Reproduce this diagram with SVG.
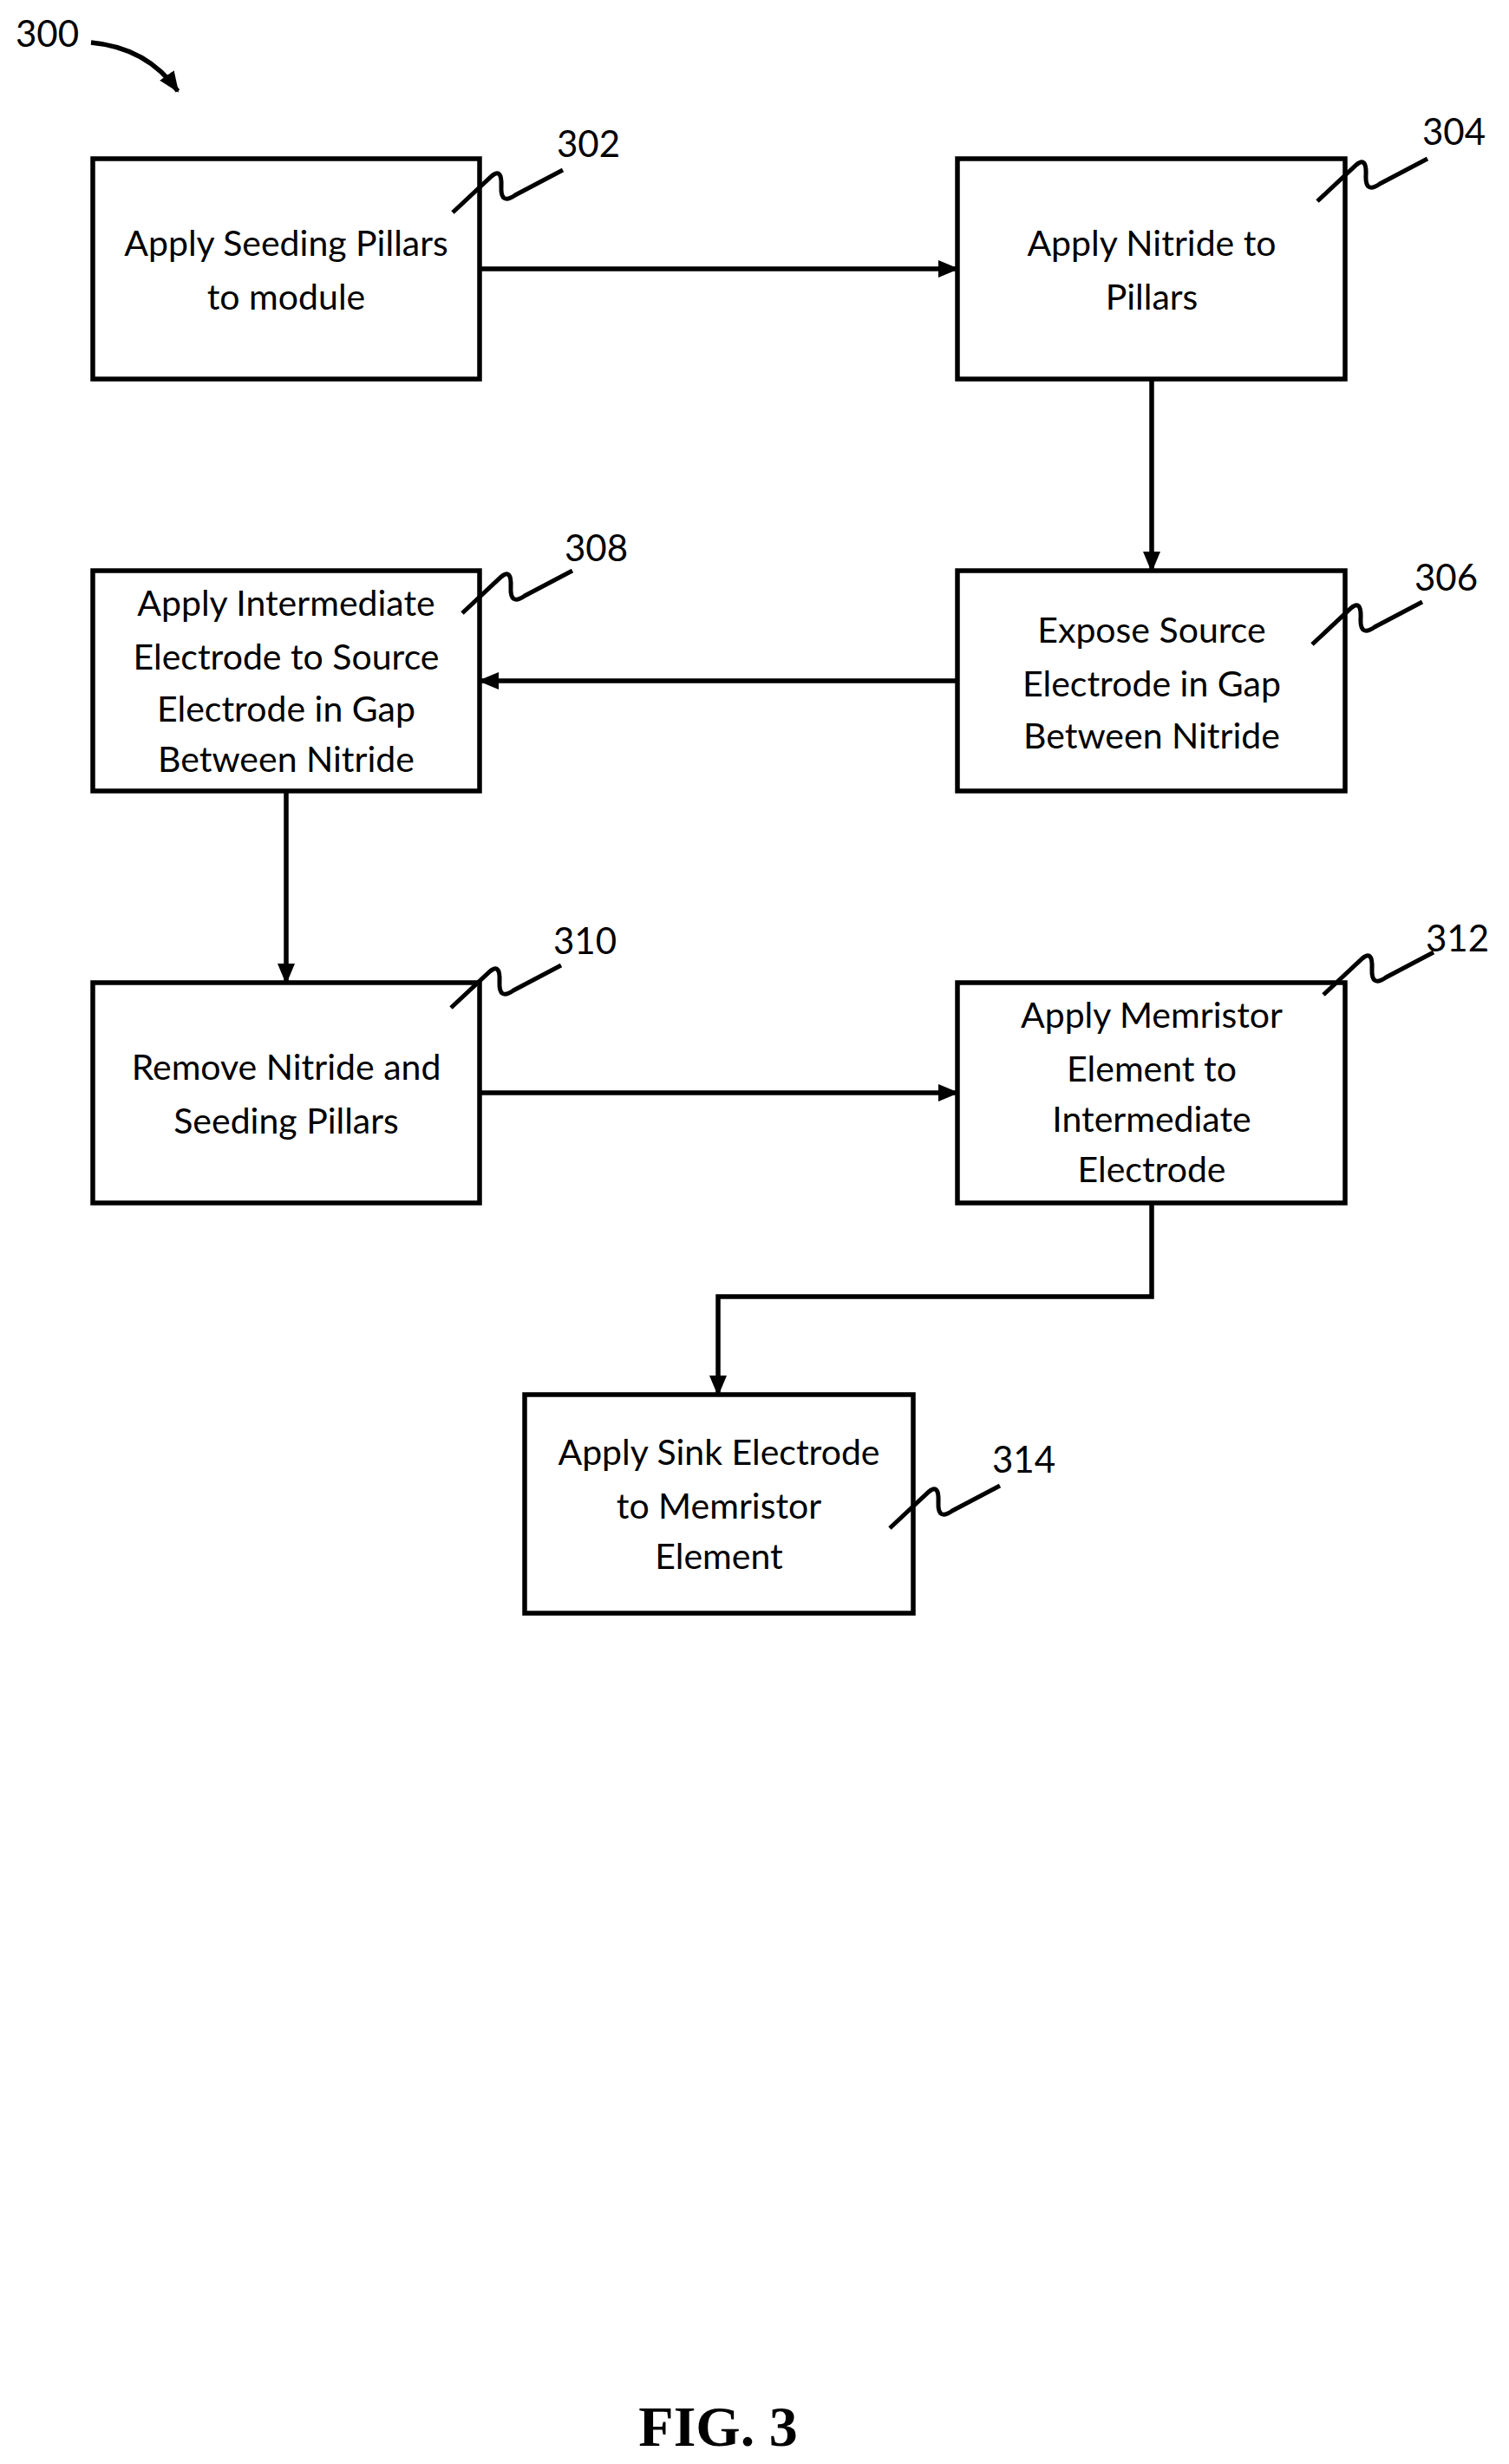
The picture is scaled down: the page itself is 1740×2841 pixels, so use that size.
<svg xmlns="http://www.w3.org/2000/svg" width="1740" height="2841" viewBox="0 0 1740 2841">
<style>
.box{fill:#fff;stroke:#000;stroke-width:5.5}
.t{font-family:Lato,"Open Sans",sans-serif;font-size:41px;text-anchor:middle;fill:#000}
.n{font-family:Lato,"Open Sans",sans-serif;font-size:42px;fill:#000}
.c{fill:none;stroke:#000;stroke-width:5.5}
.sq{fill:none;stroke:#000;stroke-width:5}
</style>
<defs>
<marker id="ah" markerWidth="10" markerHeight="10" refX="9" refY="5" orient="auto" markerUnits="userSpaceOnUse" viewBox="0 0 10 10"><path d="M0,0 L10,5 L0,10 z"/></marker>
<marker id="ah2" markerWidth="24" markerHeight="24" refX="22" refY="12" orient="auto" markerUnits="userSpaceOnUse" viewBox="0 0 24 24"><path d="M0,2 L24,12 L0,22 z"/></marker>
<path id="sq" d="M0,0 L45,-42 Q57,-52 56,-30 Q55,-8 72,-20 L127,-49"/>
</defs>
<g id="n300"><text class="n" x="18" y="54">300</text><path class="c" d="M105,49 Q170,55 205,105" marker-end="url(#ah2)"/></g>
<g id="connectors">
<line class="c" x1="553" y1="310" x2="1104" y2="310" marker-end="url(#ah2)"/>
<line class="c" x1="1328" y1="437" x2="1328" y2="658" marker-end="url(#ah2)"/>
<line class="c" x1="1104" y1="785" x2="553" y2="785" marker-end="url(#ah2)"/>
<line class="c" x1="330" y1="912" x2="330" y2="1133" marker-end="url(#ah2)"/>
<line class="c" x1="553" y1="1260" x2="1104" y2="1260" marker-end="url(#ah2)"/>
<polyline class="c" points="1328,1387 1328,1495 828,1495 828,1608" marker-end="url(#ah2)"/>
</g>
<g id="n302"><rect class="box" x="107" y="183" width="446" height="254"/><text class="t" x="330" y="295">Apply Seeding Pillars</text><text class="t" x="330" y="357">to module</text><use href="#sq" class="sq" x="522" y="245"/><text class="n" x="642" y="181">302</text></g>
<g id="n304"><rect class="box" x="1104" y="183" width="447" height="254"/><text class="t" x="1328" y="295">Apply Nitride to</text><text class="t" x="1328" y="357">Pillars</text><use href="#sq" class="sq" x="1519" y="232"/><text class="n" x="1640" y="167">304</text></g>
<g id="n306"><rect class="box" x="1104" y="658" width="447" height="254"/><text class="t" x="1328" y="741">Expose Source</text><text class="t" x="1328" y="803">Electrode in Gap</text><text class="t" x="1328" y="863">Between Nitride</text><use href="#sq" class="sq" x="1513" y="743"/><text class="n" x="1631" y="681">306</text></g>
<g id="n308"><rect class="box" x="107" y="658" width="446" height="254"/><text class="t" x="330" y="710">Apply Intermediate</text><text class="t" x="330" y="772">Electrode to Source</text><text class="t" x="330" y="832">Electrode in Gap</text><text class="t" x="330" y="890">Between Nitride</text><use href="#sq" class="sq" x="533" y="707"/><text class="n" x="651" y="647">308</text></g>
<g id="n310"><rect class="box" x="107" y="1133" width="446" height="254"/><text class="t" x="330" y="1245">Remove Nitride and</text><text class="t" x="330" y="1307">Seeding Pillars</text><use href="#sq" class="sq" x="520" y="1162"/><text class="n" x="638" y="1100">310</text></g>
<g id="n312"><rect class="box" x="1104" y="1133" width="447" height="254"/><text class="t" x="1328" y="1185">Apply Memristor</text><text class="t" x="1328" y="1247">Element to</text><text class="t" x="1328" y="1305">Intermediate</text><text class="t" x="1328" y="1363">Electrode</text><use href="#sq" class="sq" x="1526" y="1147"/><text class="n" x="1644" y="1097">312</text></g>
<g id="n314"><rect class="box" x="605" y="1608" width="448" height="252"/><text class="t" x="829" y="1689">Apply Sink Electrode</text><text class="t" x="829" y="1751">to Memristor</text><text class="t" x="829" y="1809">Element</text><use href="#sq" class="sq" x="1026" y="1762"/><text class="n" x="1144" y="1698">314</text></g>
<text x="828" y="2820" font-family="'Liberation Serif',serif" font-weight="bold" font-size="66" text-anchor="middle">FIG. 3</text>
</svg>
